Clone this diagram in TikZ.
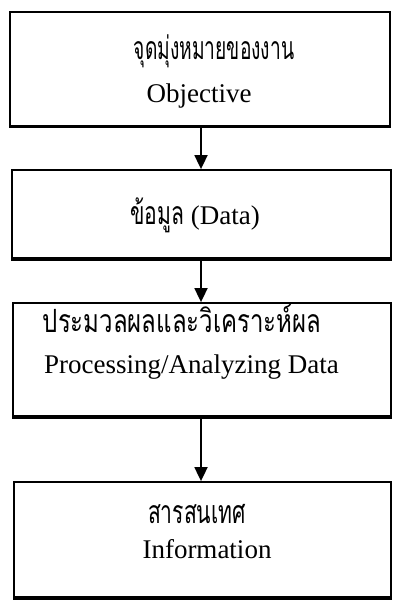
\documentclass[tikz,border=0pt]{standalone}
\usepackage{fontspec}
\setmainfont{Liberation Serif}
% Thai labels: Loma, narrowed to suit the box widths
\newfontfamily\thaifont[Script=Thai, FakeStretch=0.66]{Loma}
\newfontfamily\thainarrow[Script=Thai, FakeStretch=0.60]{Loma}
\newfontfamily\thaiwide[Script=Thai, FakeStretch=0.75]{Loma}
\usetikzlibrary{arrows.meta}

\tikzset{
  flowbox/.style={draw=black, line width=1.8pt, rectangle, inner sep=0pt},
  shadowline/.style={line width=3.2pt, line cap=butt},
  thaitext/.style={anchor=base, font=\thaifont\fontsize{32}{36}\selectfont},
  engtext/.style={anchor=base, font=\fontsize{27}{31}\selectfont},
  flowarrow/.style={line width=1.8pt, -{Triangle[length=14pt,width=13pt]}}
}

\begin{document}
\begin{tikzpicture}[x=1pt,y=-1pt]
  \useasboundingbox (0,0) rectangle (392,601);

  % boxes
  \node[flowbox, minimum width=380pt, minimum height=114pt] (b1) at (200,69) {};
  \node[flowbox, minimum width=379pt, minimum height=88pt] (b2) at (201.5,214) {};
  \node[flowbox, minimum width=378pt, minimum height=113pt] (b3) at (202,359.5) {};
  \node[flowbox, minimum width=377pt, minimum height=115pt] (b4) at (202.5,539.5) {};

  % heavier lower edges
  \foreach \b in {b1,b2,b3,b4}{
    \draw[shadowline] (\b.south west) -- (\b.south east);
  }

  % labels
  \node[thaitext, font=\thainarrow\fontsize{32}{36}\selectfont] (t1) at (214,60) {จุดมุ่งหมายของงาน};
  \node[engtext] (e1) at (199,103) {Objective};
  \node[engtext] (t2) at (195,225) {{\thaifont\fontsize{32}{36}\selectfont ข้อมูล} (Data)};
  \node[thaitext, font=\thaiwide\fontsize{32}{36}\selectfont] (t3) at (182,332) {ประมวลผลและวิเคราะห์ผล};
  \node[engtext] (e3) at (191.5,373) {Processing/Analyzing Data};
  \node[thaitext] (t4) at (197,523) {สารสนเทศ};
  \node[engtext] (e4) at (207,558) {Information};

  % connectors
  \draw[flowarrow] (b1.south -| 201,0) -- (b2.north -| 201,0);
  \draw[flowarrow] (b2.south -| 201,0) -- (b3.north -| 201,0);
  \draw[flowarrow] (b3.south -| 201,0) -- (b4.north -| 201,0);
\end{tikzpicture}
\end{document}
